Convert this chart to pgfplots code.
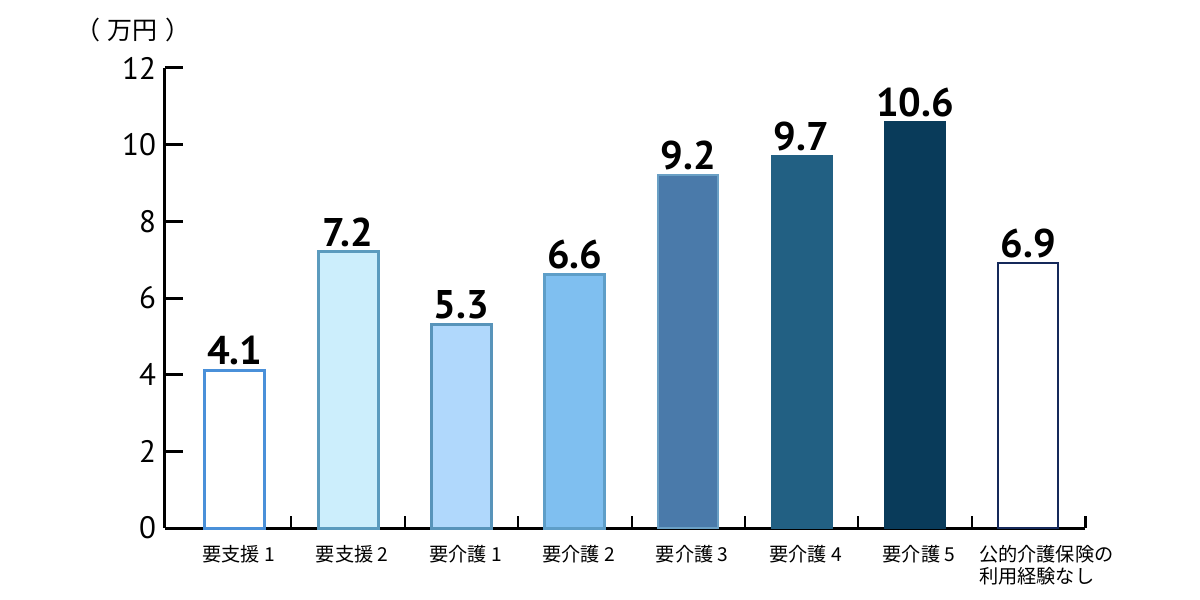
\documentclass[border=0pt]{standalone}
\usepackage{fontspec}
\setmainfont{PT Sans}
\newfontfamily\cjk{Noto Sans CJK JP}
\usepackage{pgfplots}
\pgfplotsset{compat=1.18}
\definecolor{oA}{HTML}{4A90D9}
\definecolor{fB}{HTML}{CCEEFC}\definecolor{oB}{HTML}{5B9BBE}
\definecolor{fC}{HTML}{B0D8FC}\definecolor{oC}{HTML}{5894BA}
\definecolor{fD}{HTML}{7FBFF0}\definecolor{oD}{HTML}{5E9EC8}
\definecolor{fE}{HTML}{4A7AAA}\definecolor{oE}{HTML}{6AA0C5}
\definecolor{fF}{HTML}{226083}
\definecolor{fG}{HTML}{093B5A}
\definecolor{oH}{HTML}{15295A}
\begin{document}
\begin{tikzpicture}
\path[use as bounding box] (-82.5pt,-36pt) rectangle (517.5pt,264pt);
\begin{axis}[
  scale only axis, width=460pt, height=230pt,
  xmin=-0.615, xmax=7.5, ymin=0, ymax=12,
  axis x line=bottom, axis y line=left,
  axis line style={line width=1.5pt, -},
  tick align=inside,
  major tick length=9pt,
  ytick={0,2,...,12},
  y tick style={line width=1.5pt, black},
  /pgf/number format/assume math mode=true,
  yticklabel style={font=\fontsize{15.5}{15.5}\selectfont, xshift=-1pt},
  xtick={0,...,7},
  xticklabels={要支援 1,要支援 2,要介護 1,要介護 2,要介護 3,要介護 4,要介護 5,{\hspace*{14pt}公的介護保険の\\\hspace*{14pt}利用経験なし}},
  xticklabel style={font=\cjk\fontsize{9.6}{11.3}\selectfont, align=left, yshift=4pt, xshift=2pt},
  x tick style={draw=none},
  ybar, bar width=30pt, bar shift=0pt,
  nodes near coords,
  nodes near coords style={font=\fontsize{20}{20}\bfseries\selectfont, inner sep=2pt, black},
  clip=false,
]
\addplot[fill=white, draw=oA, line width=1.5pt] coordinates {(0,4.1)};
\addplot[fill=fB, draw=oB, line width=1.5pt] coordinates {(1,7.2)};
\addplot[fill=fC, draw=oC, line width=1.5pt] coordinates {(2,5.3)};
\addplot[fill=fD, draw=oD, line width=1.5pt] coordinates {(3,6.6)};
\addplot[fill=fE, draw=oE, line width=1pt] coordinates {(4,9.2)};
\addplot[fill=fF, draw=fF, line width=1pt] coordinates {(5,9.7)};
\addplot[fill=fG, draw=fG, line width=1pt] coordinates {(6,10.6)};
\addplot[fill=white, draw=oH, line width=1pt] coordinates {(7,6.9)};
\draw[line width=1pt] (axis cs:0.5,0) -- ++(0pt,6pt);
\draw[line width=1pt] (axis cs:1.5,0) -- ++(0pt,6pt);
\draw[line width=1pt] (axis cs:2.5,0) -- ++(0pt,6pt);
\draw[line width=1pt] (axis cs:3.5,0) -- ++(0pt,6pt);
\draw[line width=1pt] (axis cs:4.5,0) -- ++(0pt,6pt);
\draw[line width=1pt] (axis cs:5.5,0) -- ++(0pt,6pt);
\draw[line width=1pt] (axis cs:6.5,0) -- ++(0pt,6pt);
\draw[line width=1.5pt] (axis cs:7.5,0) -- ++(0pt,6pt);
\end{axis}
\node[font=\cjk\fontsize{12.5}{12.5}\selectfont] at (-16pt,249pt) {（\hspace{4pt}万円\hspace{4pt}）};
\end{tikzpicture}
\end{document}
